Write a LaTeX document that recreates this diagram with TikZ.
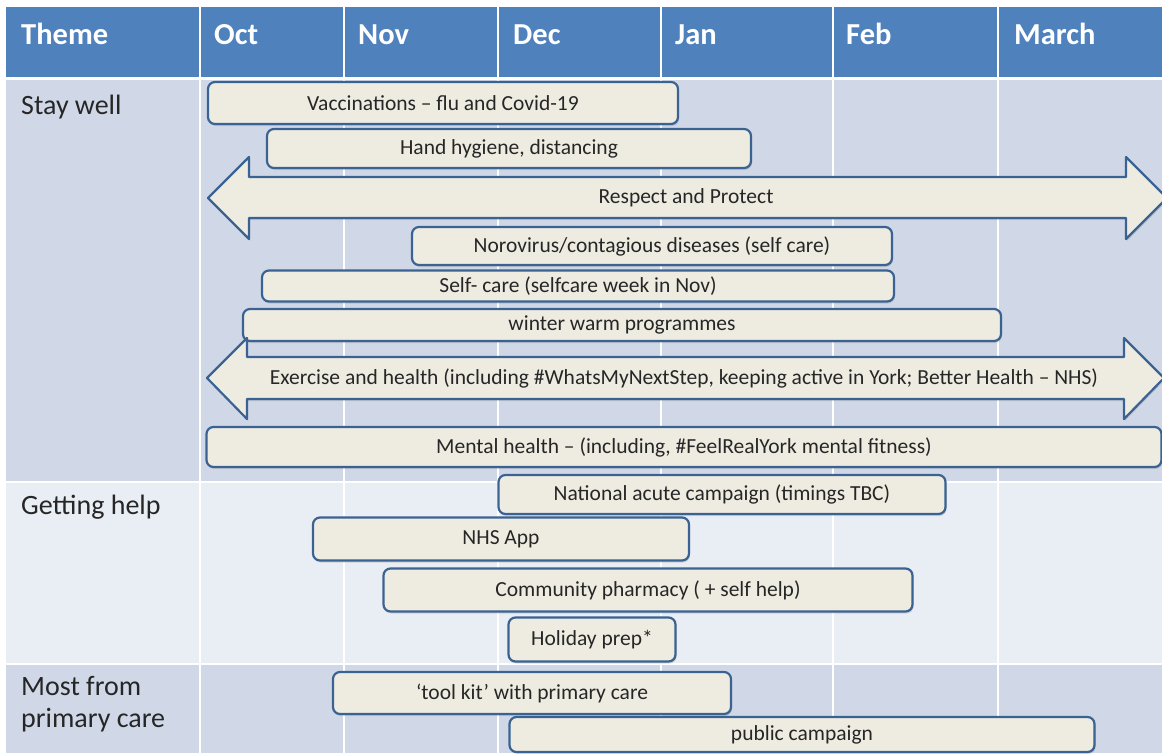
\documentclass[tikz,border=0pt]{standalone}
\usepackage{fontspec}
\setmainfont{Carlito}
\usetikzlibrary{shadows}
\definecolor{hdr}{HTML}{4F81BD}
\definecolor{rowa}{HTML}{D0D8E8}
\definecolor{rowb}{HTML}{E9EDF4}
\definecolor{boxfill}{HTML}{EEECE1}
\definecolor{boxline}{HTML}{3A6292}
\definecolor{txt}{HTML}{262626}
\begin{document}
\begin{tikzpicture}[x=1pt,y=-1pt,
  bar/.style={draw=boxline, line width=2.2pt, fill=boxfill, rounded corners=7pt,
    text=txt, font=\fontsize{21.5}{25}\selectfont, inner sep=0pt,
    drop shadow={shadow xshift=1pt, shadow yshift=-2pt, opacity=0.25}},
  arrowshape/.style={draw=boxline, line width=2.2pt, fill=boxfill, line join=round,
    drop shadow={shadow xshift=1pt, shadow yshift=-2pt, opacity=0.25}},
  lbl/.style={text=txt, font=\fontsize{21.5}{25}\selectfont, inner sep=0pt},
  head/.style={text=white, font=\fontsize{30.5}{34}\selectfont\bfseries, anchor=base west, inner sep=0pt},
  theme/.style={text=txt, font=\fontsize{28}{32}\selectfont, anchor=base west, inner sep=0pt, align=left},
  grid/.style={draw=white, line width=2pt}]
\useasboundingbox (0,0) rectangle (1162,753);
\fill[white] (0,0) rectangle (1162,753);
% bands
\fill[hdr] (6,7) rectangle (1162,77);
\fill[rowa] (6,80) rectangle (1162,481);
\fill[rowb] (6,483) rectangle (1162,663);
\fill[rowa] (6,665) rectangle (1162,753);
% column lines
\foreach \cx in {200,344,498,661,833,998}
  \draw[grid] (\cx,7) -- (\cx,753);
% header
\node[head] (hth) at (21,44) {Theme};
\node[head] (hoct) at (214,44) {Oct};
\node[head] (hnov) at (358,44) {Nov};
\node[head] (hdec) at (513,44) {Dec};
\node[head] (hjan) at (675,44) {Jan};
\node[head] (hfeb) at (846,44) {Feb};
\node[head] (hmar) at (1014,44) {March};
% themes
\node[theme] (t1) at (21,114) {Stay well};
\node[theme] (t2) at (21,514) {Getting help};
\node[theme] (t3) at (21,695) {Most from};
\node[theme] (t3b) at (21,727) {primary care};
% stay well
\node[bar, minimum width=470pt, minimum height=42pt] (vac) at (443,103) {Vaccinations – flu and Covid-19};
\node[bar, minimum width=484pt, minimum height=39pt] (hand) at (509,148.5) {Hand hygiene, distancing};
\path[arrowshape] (208,198) -- (249,157) -- (249,177) -- (1126,177) -- (1126,157) -- (1167,198)
  -- (1126,239) -- (1126,218) -- (249,218) -- (249,239) -- cycle;
\node[lbl] (resp) at (686,198) {Respect and Protect};
\node[bar, minimum width=480pt, minimum height=38pt] (noro) at (652,246) {Norovirus/contagious diseases (self care)};
\node[bar, minimum width=632pt, minimum height=31pt] (self) at (578,286) {Self- care (selfcare week in Nov)};
\node[bar, minimum width=758pt, minimum height=32pt] (warm) at (622,325) {winter warm programmes};
\path[arrowshape] (207,378) -- (247,338) -- (247,357) -- (1124,357) -- (1124,338) -- (1164,378)
  -- (1124,419) -- (1124,399) -- (247,399) -- (247,419) -- cycle;
\node[lbl] (exer) at (684,378) {Exercise and health (including \#WhatsMyNextStep, keeping active in York; Better Health – NHS)};
\node[bar, minimum width=955pt, minimum height=40pt] (ment) at (684,447) {Mental health – (including, \#FeelRealYork mental fitness)};
% getting help
\node[bar, minimum width=447pt, minimum height=39pt] (nat) at (722,494.5) {National acute campaign (timings TBC)};
\node[bar, minimum width=376pt, minimum height=43pt] (nhs) at (501,539) {NHS App};
\node[bar, minimum width=529pt, minimum height=43pt] (pharm) at (648,590) {Community pharmacy ( + self help)};
\node[bar, minimum width=167pt, minimum height=44pt] (hol) at (592,639.5) {Holiday prep*};
% primary care
\node[bar, minimum width=398pt, minimum height=42pt] (tool) at (532,693) {‘tool kit’ with primary care};
\node[bar, minimum width=585pt, minimum height=35pt] (pub) at (802,734.5) {public campaign};
\end{tikzpicture}
\end{document}
